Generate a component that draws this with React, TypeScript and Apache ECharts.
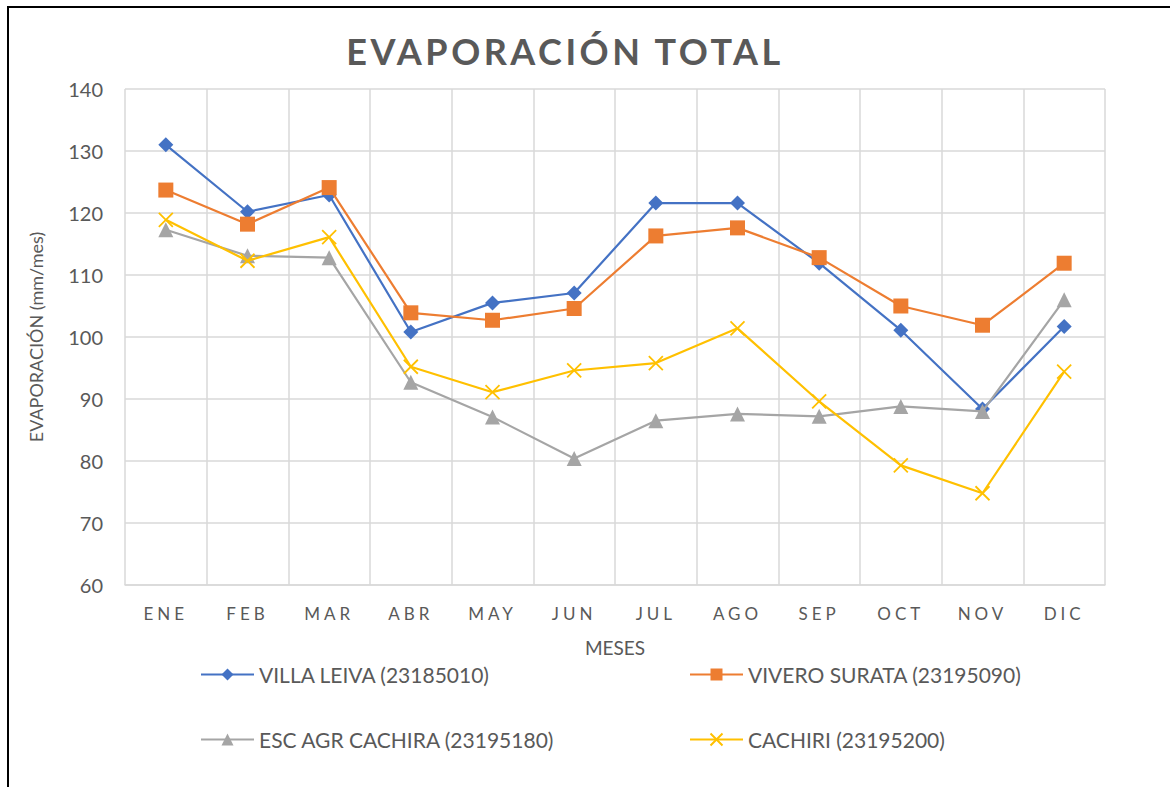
import React, { useEffect, useRef } from "react";
import * as echarts from "echarts";

const months = ["ENE", "FEB", "MAR", "ABR", "MAY", "JUN", "JUL", "AGO", "SEP", "OCT", "NOV", "DIC"];
const villaLeiva = [131.0, 120.2, 122.9, 100.8, 105.5, 107.1, 121.6, 121.6, 111.9, 101.1, 88.4, 101.7];
const viveroSurata = [123.7, 118.2, 124.1, 103.9, 102.7, 104.6, 116.3, 117.6, 112.8, 105.0, 101.9, 111.9];
const escAgrCachira = [117.3, 113.1, 112.8, 92.7, 87.1, 80.4, 86.5, 87.6, 87.2, 88.8, 88.0, 106.0];
const cachiri = [118.9, 112.3, 116.1, 95.2, 91.1, 94.6, 95.8, 101.4, 89.6, 79.3, 74.8, 94.4];
const seriesNames = [
  "VILLA LEIVA (23185010)",
  "VIVERO SURATA (23195090)",
  "ESC AGR CACHIRA (23195180)",
  "CACHIRI (23195200)",
];
const titleText = "EVAPORACIÓN TOTAL";
const colors = ["#4472C4", "#ED7D31", "#A5A5A5", "#FFC000"];
const symbols = ["diamond", "rect", "triangle", "path://M0,0L10,10M10,0L0,10"];
const symbolSizes = [15, 15, 15, 14];

const FONT = "Lato";

export default function App() {
  const ref = useRef<HTMLDivElement>(null);
  useEffect(() => {
    if (!ref.current) return;
    const chart = echarts.init(ref.current, null, { renderer: "svg" });
    const data = [villaLeiva, viveroSurata, escAgrCachira, cachiri];
    const legendPos = [
      { left: 195, top: 659 },
      { left: 684, top: 659 },
      { left: 195, top: 724 },
      { left: 684, top: 724 },
    ];
    chart.setOption({
      animation: false,
      backgroundColor: "#ffffff",
      textStyle: { fontFamily: FONT },
      title: {
        text: titleText,
        left: 560,
        textAlign: "center",
        top: 28,
        textStyle: { fontFamily: FONT, fontWeight: "bold", fontSize: 36, color: "#595959" },
      },
      graphic: [
        {
          type: "rect",
          shape: { x: 8, y: 7, width: 1400, height: 1000 },
          style: { fill: "none", stroke: "#000", lineWidth: 2 },
          silent: true,
        },
      ],
      legend: seriesNames.map((n, i) => ({
        data: [n],
        left: legendPos[i].left,
        top: legendPos[i].top,
        itemWidth: 53,
        itemHeight: 15,
        itemGap: 5,
        textStyle: { fontFamily: FONT, fontSize: 21, color: "#595959" },
      })),
      grid: { left: 125, right: 65, top: 89, bottom: 202, containLabel: false },
      xAxis: {
        type: "category",
        data: months,
        boundaryGap: true,
        name: "MESES",
        nameLocation: "middle",
        nameGap: 53,
        nameTextStyle: { fontFamily: FONT, fontSize: 19, color: "#595959" },
        axisLine: { lineStyle: { color: "#d9d9d9", width: 1.5 } },
        axisTick: { show: false },
        axisLabel: { margin: 20, fontFamily: FONT, fontSize: 17, color: "#595959" },
        splitLine: { show: true, lineStyle: { color: "#d9d9d9", width: 1.5 } },
      },
      yAxis: {
        type: "value",
        min: 60,
        max: 140,
        interval: 10,
        name: "EVAPORACIÓN (mm/mes)",
        nameLocation: "middle",
        nameGap: 80,
        nameTextStyle: { fontFamily: FONT, fontSize: 18, color: "#595959" },
        axisLine: { show: false },
        axisTick: { show: false },
        axisLabel: { margin: 22, fontFamily: FONT, fontSize: 20, color: "#595959" },
        splitLine: { show: true, lineStyle: { color: "#d9d9d9", width: 1.5 } },
      },
      series: seriesNames.map((n, i) => ({
        name: n,
        type: "line",
        data: data[i],
        symbol: symbols[i],
        symbolSize: symbolSizes[i],
        showAllSymbol: true,
        lineStyle: { color: colors[i], width: 2.2 },
        itemStyle:
          i === 3
            ? { color: colors[i], borderColor: colors[i], borderWidth: 1.8 }
            : { color: colors[i] },
        z: 2 + i,
      })),
    });
    // letter-spacing for title and month labels (as in the reference)
    const texts = ref.current.querySelectorAll("text");
    texts.forEach((t) => {
      const s = (t.textContent || "").trim();
      if (s === titleText) {
        (t as SVGTextElement).style.letterSpacing = "3.5px";
      } else if (months.indexOf(s) >= 0) {
        (t as SVGTextElement).style.letterSpacing = "4px";
      }
    });
    return () => chart.dispose();
  }, []);
  return (
    <div
      ref={ref}
      style={{ position: "fixed", left: 0, top: 0, width: 1170, height: 787 }}
    />
  );
}
